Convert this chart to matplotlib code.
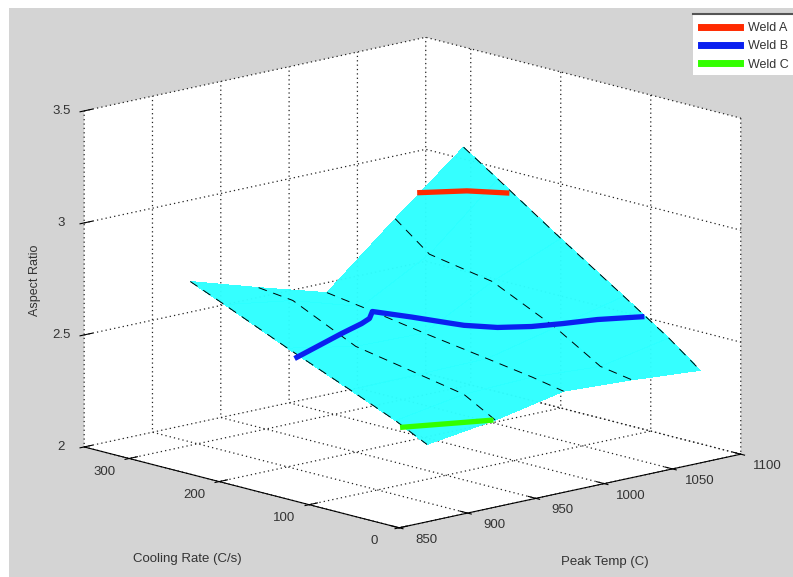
import numpy as np
import matplotlib
matplotlib.use("Agg")
import matplotlib.pyplot as plt
from matplotlib.lines import Line2D
from matplotlib.patches import Rectangle
from matplotlib.transforms import ScaledTranslation

plt.rcParams['font.family'] = ['Liberation Sans', 'DejaVu Sans']

# Surface, one row per peak temp, one column per cooling rate
peak_temp = [900, 950, 1000, 1050, 1100]
cooling_rate = [308, 270, 200, 130, 80, 45]
aspect_900 = [2.716, 2.652, 2.530, 2.415, 2.330, 2.260]
aspect_950 = [2.623, 2.605, 2.472, 2.420, 2.382, 2.303]
aspect_1000 = [2.535, 2.512, 2.466, 2.424, 2.393, 2.366]
aspect_1050 = [2.799, 2.680, 2.630, 2.497, 2.375, 2.351]
aspect_1100 = [3.053, 2.950, 2.757, 2.571, 2.436, 2.328]

# Weld paths
weld_a_temp = [1068, 1086, 1100]
weld_a_rate = [308, 283, 260]
weld_a_ratio = [2.892, 2.902, 2.898]

weld_b_temp = [900, 955, 978, 989, 1001, 1008, 1014, 1016, 1026, 1041, 1058, 1078, 1100]
weld_b_rate = [189.5, 223, 236, 244, 259, 226, 191, 180, 158, 143, 134, 126, 110]
weld_b_ratio = [2.5] * 13

weld_c_temp = [900, 925, 950]
weld_c_rate = [72, 61, 50]
weld_c_ratio = [2.309, 2.303, 2.297]

W, H = 793, 577
text_color = '#333333'
fig = plt.figure(figsize=(W / 100, H / 100), dpi=100, facecolor='white')
fig.add_artist(Rectangle((9 / W, 0), 1, 1 - 8 / H, transform=fig.transFigure,
                         facecolor='#D4D4D4', edgecolor='none', zorder=-5))

# axes square centred on the box
side = 700
cx, cy = 403, 292
ax = fig.add_axes([(cx - side / 2) / W, (H - cy - side / 2) / H, side / W, side / H],
                  projection='3d', computed_zorder=False, proj_type='ortho')
ax.patch.set_alpha(0)
ax.set_box_aspect((465, 468, 347), zoom=1.03)
ax.view_init(elev=13.6, azim=-132.5)

ax.set_xlim(850, 1100)
ax.set_ylim(0, 350)
ax.set_zlim(2, 3.5)
ax.set_xticks([850, 900, 950, 1000, 1050, 1100])
ax.set_yticks([0, 100, 200, 300])
ax.set_zticks([2, 2.5, 3, 3.5])
ax.set_zticklabels(['2', '2.5', '3', '3.5'])

for axis in (ax.xaxis, ax.yaxis, ax.zaxis):
    axis.set_pane_color((1, 1, 1, 1))
    axis.pane.set_edgecolor('none')
    axis._axinfo['grid'].update(color='#222222', linewidth=0.9, linestyle=(0, (1, 2.5)))
    axis._axinfo['tick'].update(inward_factor=0.15, outward_factor=0.3)
    axis.set_tick_params(labelsize=9.5, labelcolor=text_color, pad=2)
ax.zaxis.line.set_color('none')


# Axis3D resets tick transforms in get_major_ticks, so shift the labels there
def shift_tick_labels(axis, dx, dy):
    offset = ScaledTranslation(dx / 100, dy / 100, fig.dpi_scale_trans)
    orig = axis.get_major_ticks

    def get_major_ticks(numticks=None):
        ticks = orig(numticks)
        for tick in ticks:
            tick.label1.set_transform(ax.transData + offset)
        return ticks
    axis.get_major_ticks = get_major_ticks


shift_tick_labels(ax.xaxis, 15, 10)
shift_tick_labels(ax.yaxis, -12, 8)
shift_tick_labels(ax.zaxis, 2, 6)

X, Y = np.meshgrid(peak_temp, cooling_rate, indexing='ij')
Z = np.array([aspect_900, aspect_950, aspect_1000, aspect_1050, aspect_1100])
ax.plot_surface(X, Y, Z, color='#2EFFFF', shade=False, linewidth=0,
                antialiased=False, alpha=0.97, zorder=2)
for i, temp in enumerate(peak_temp):
    ax.plot([temp] * len(cooling_rate), cooling_rate, Z[i], color='black', lw=0.7,
            ls=(0, (9, 7)), zorder=3)

ax.plot(weld_a_temp, weld_a_rate, weld_a_ratio, color='#FF2A00', lw=3.8, zorder=4)
ax.plot(weld_b_temp, weld_b_rate, weld_b_ratio, color='#0A20F0', lw=3.8, zorder=4)
ax.plot(weld_c_temp, weld_c_rate, weld_c_ratio, color='#33FF00', lw=3.8, zorder=4)

fig.text(187 / W, 1 - 559 / H, 'Cooling Rate (C/s)', fontsize=9.5, color=text_color,
         ha='center', va='center')
fig.text(605 / W, 1 - 562 / H, 'Peak Temp (C)', fontsize=9.5, color=text_color,
         ha='center', va='center')
fig.text(35 / W, 1 - 280 / H, 'Aspect Ratio', fontsize=9, color=text_color,
         rotation=90, ha='center', va='center')

# legend runs off the right side in the original
fig.add_artist(Rectangle((693 / W, 1 - 75 / H), 1, 61 / H, transform=fig.transFigure,
                         facecolor='white', edgecolor='none', zorder=4))
handles = [Line2D([], [], color='#FF2A00', lw=5),
           Line2D([], [], color='#0A20F0', lw=5),
           Line2D([], [], color='#33FF00', lw=5)]
leg = fig.legend(handles, ['Weld A', 'Weld B', 'Weld C'], loc='upper left',
                 bbox_to_anchor=(693 / W, 1 - 14 / H), borderaxespad=0, fontsize=9,
                 frameon=False, labelcolor=text_color, handlelength=3.1, handletextpad=0.65,
                 labelspacing=0.5, borderpad=0.65)
fig.add_artist(Line2D([693 / W, 1], [1 - 14 / H, 1 - 14 / H], color='#555555', lw=1.5,
                      transform=fig.transFigure, zorder=10))

fig.savefig('out.png', dpi=100, facecolor=fig.get_facecolor())
